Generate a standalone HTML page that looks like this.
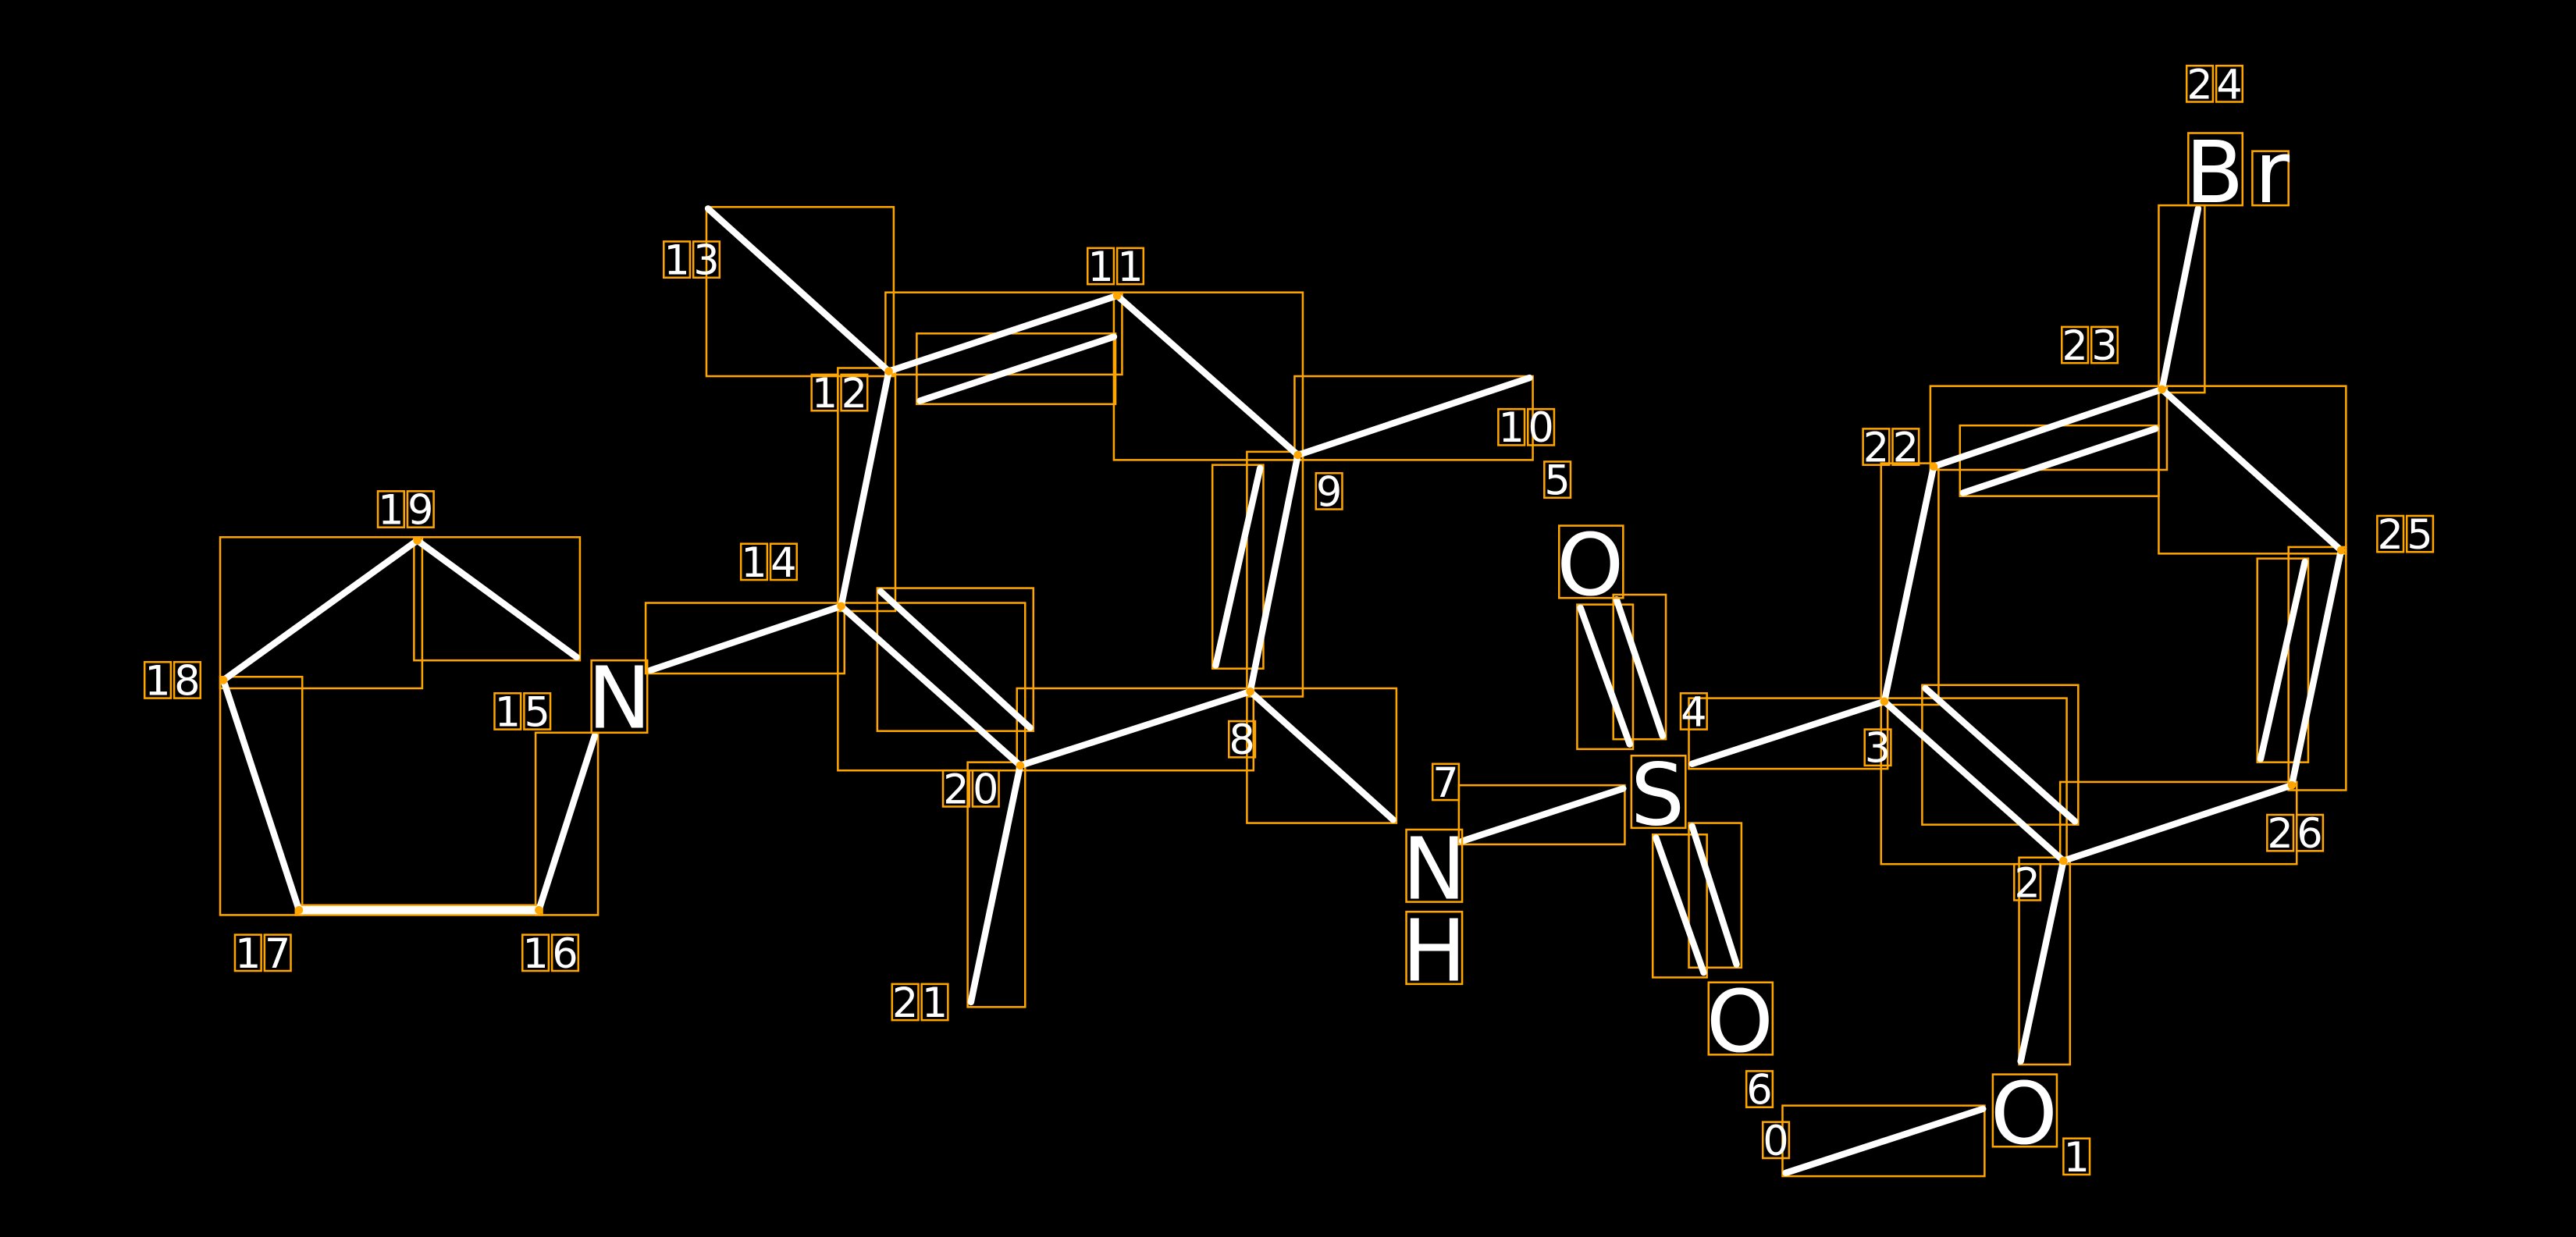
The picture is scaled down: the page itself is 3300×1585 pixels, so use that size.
<!DOCTYPE html>
<html><head><meta charset="utf-8"><style>
html,body{margin:0;padding:0;background:#000;overflow:hidden}
svg{display:block}
text{font-family:"DejaVu Sans","Liberation Sans",sans-serif;fill:#fff}
.b{stroke:#fff;stroke-width:4;stroke-linecap:round}
.r{fill:none;stroke:#ffa500;stroke-width:1.2}
.n{font-size:25px;text-anchor:middle}
.a{font-size:52px;text-anchor:middle}
</style></head><body>
<svg id="s" width="3300" height="1585" viewBox="0 0 1568 753" preserveAspectRatio="none">
<rect width="1568" height="753" fill="#000"/>
<g class="r">
<rect x="1085" y="673" width="123" height="43"/>
<rect x="1229" y="522" width="31" height="126"/>
<rect x="1145" y="425" width="113" height="101"/>
<rect x="1170" y="417" width="95" height="85"/>
<rect x="1254" y="476" width="144" height="50"/>
<rect x="1393" y="333" width="35" height="148"/>
<rect x="1374" y="340" width="31" height="124"/>
<rect x="1314" y="235" width="114" height="102"/>
<rect x="1314" y="125" width="28" height="114"/>
<rect x="1175" y="235" width="144" height="51"/>
<rect x="1193" y="259" width="121" height="43"/>
<rect x="1145" y="282" width="35" height="147"/>
<rect x="1028" y="425" width="121" height="43"/>
<rect x="960" y="368" width="34" height="88"/>
<rect x="982" y="362" width="32" height="88"/>
<rect x="1006" y="508" width="33" height="87"/>
<rect x="1028" y="501" width="32" height="88"/>
<rect x="888" y="478" width="101" height="36"/>
<rect x="619" y="419" width="144" height="50"/>
<rect x="759" y="275" width="34" height="149"/>
<rect x="738" y="283" width="31" height="124"/>
<rect x="759" y="419" width="91" height="82"/>
<rect x="788" y="229" width="145" height="51"/>
<rect x="678" y="178" width="115" height="102"/>
<rect x="539" y="178" width="144" height="50"/>
<rect x="558" y="203" width="121" height="43"/>
<rect x="430" y="126" width="114" height="103"/>
<rect x="510" y="224" width="35" height="148"/>
<rect x="510" y="367" width="114" height="102"/>
<rect x="534" y="358" width="95" height="87"/>
<rect x="589" y="464" width="35" height="149"/>
<rect x="393" y="367" width="121" height="43"/>
<rect x="326" y="446" width="38" height="111"/>
<rect x="180" y="551" width="150" height="6"/>
<rect x="134" y="412" width="50" height="145"/>
<rect x="134" y="327" width="123" height="92"/>
<rect x="252" y="327" width="101" height="75"/>
</g>
<g class="b">
<line x1="1087" y1="714" x2="1207" y2="675"/>
<line x1="1230" y1="646" x2="1256" y2="524"/>
<line x1="1256" y1="524" x2="1147" y2="427"/>
<line x1="1172" y1="419" x2="1263" y2="500"/>
<line x1="1256" y1="524" x2="1395" y2="478"/>
<line x1="1395" y1="478" x2="1425" y2="335"/>
<line x1="1376" y1="462" x2="1403" y2="342"/>
<line x1="1425" y1="335" x2="1316" y2="237"/>
<line x1="1316" y1="237" x2="1338" y2="127"/>
<line x1="1316" y1="237" x2="1177" y2="284"/>
<line x1="1195" y1="300" x2="1312" y2="261"/>
<line x1="1177" y1="284" x2="1147" y2="427"/>
<line x1="1147" y1="427" x2="1030" y2="465"/>
<line x1="962" y1="370" x2="992" y2="453"/>
<line x1="984" y1="365" x2="1012" y2="448"/>
<line x1="1008" y1="510" x2="1037" y2="592"/>
<line x1="1030" y1="503" x2="1057" y2="587"/>
<line x1="988" y1="480" x2="890" y2="512"/>
<line x1="761" y1="421" x2="621" y2="466"/>
<line x1="761" y1="421" x2="790" y2="277"/>
<line x1="740" y1="405" x2="767" y2="285"/>
<line x1="761" y1="421" x2="848" y2="499"/>
<line x1="790" y1="277" x2="931" y2="230"/>
<line x1="790" y1="277" x2="680" y2="180"/>
<line x1="680" y1="180" x2="541" y2="226"/>
<line x1="560" y1="244" x2="678" y2="205"/>
<line x1="541" y1="226" x2="431" y2="127"/>
<line x1="541" y1="226" x2="512" y2="369"/>
<line x1="512" y1="369" x2="621" y2="466"/>
<line x1="536" y1="360" x2="627" y2="443"/>
<line x1="621" y1="466" x2="591" y2="610"/>
<line x1="512" y1="369" x2="396" y2="408"/>
<line x1="362" y1="448" x2="328" y2="554"/>
<line x1="182" y1="554" x2="328" y2="554" style="stroke-width:5"/>
<line x1="182" y1="554" x2="136" y2="414"/>
<line x1="136" y1="414" x2="254" y2="329"/>
<line x1="254" y1="329" x2="351" y2="400"/>
</g>
<g fill="#ffa500">
<circle cx="1256" cy="524" r="2.5"/><circle cx="1147" cy="427" r="2.5"/><circle cx="1395" cy="478" r="2.5"/>
<circle cx="1425" cy="335" r="2.5"/><circle cx="1316" cy="237" r="2.5"/><circle cx="1177" cy="284" r="2.5"/>
<circle cx="761" cy="421" r="2.5"/><circle cx="790" cy="277" r="2.5"/><circle cx="680" cy="180" r="2.5"/>
<circle cx="541" cy="226" r="2.5"/><circle cx="512" cy="369" r="2.5"/><circle cx="621" cy="466" r="2.5"/>
<circle cx="254" cy="329" r="2.5"/><circle cx="136" cy="414" r="2.5"/><circle cx="182" cy="554" r="2.5"/><circle cx="328" cy="554" r="2.5"/>
</g>
<g class="r">
<rect x="949" y="320" width="39" height="44"/>
<rect x="993" y="460" width="33" height="44"/>
<rect x="1040" y="598" width="39" height="44"/>
<rect x="1213" y="654" width="39" height="44"/>
<rect x="856" y="505" width="34" height="44"/>
<rect x="856" y="555" width="34" height="44"/>
<rect x="360" y="402" width="34" height="44"/>
<rect x="1332" y="81" width="33" height="44"/>
<rect x="1371" y="92" width="22" height="33"/>
</g>
<text class="a" x="968" y="362">O</text>
<text class="a" x="1009" y="502">S</text>
<text class="a" x="1059" y="640">O</text>
<text class="a" x="1232" y="696">O</text>
<text class="a" x="873" y="547">N</text>
<text class="a" x="873" y="597">H</text>
<text class="a" x="377" y="443">N</text>
<text class="a" x="1348" y="123">B</text>
<text class="a" x="1383" y="123">r</text>
<g class="n" id="nums"></g>
</svg>
<script>
var L=[[0,1081,703],[1,1264,713],[2,1234,546],[3,1143,464],[4,1031,442],[5,948,301],[6,1071,672],[7,880,485],[8,756,459],[9,809,308],[10,929,269],[11,679,171],[12,511,248],[13,421,167],[14,468,351],[15,318,442],[16,335,589],[17,160,589],[18,105,423],[19,247,319],[20,591,489],[21,560,619],[22,1151,281],[23,1272,219],[24,1348,60],[25,1464,334],[26,1397,516]];
var g=document.getElementById('nums'),ns='http://www.w3.org/2000/svg',h='';
L.forEach(function(l){var s=String(l[0]),n=s.length,step=18,x0=l[1]-(n-1)*step/2;
for(var i=0;i<n;i++){var cx=x0+i*step;
h+='<rect class="r" x="'+(cx-8)+'" y="'+(l[2]-20)+'" width="16" height="22"/>';
h+='<text x="'+cx+'" y="'+l[2]+'">'+s[i]+'</text>';}});
g.innerHTML=h;
</script>
</body></html>
